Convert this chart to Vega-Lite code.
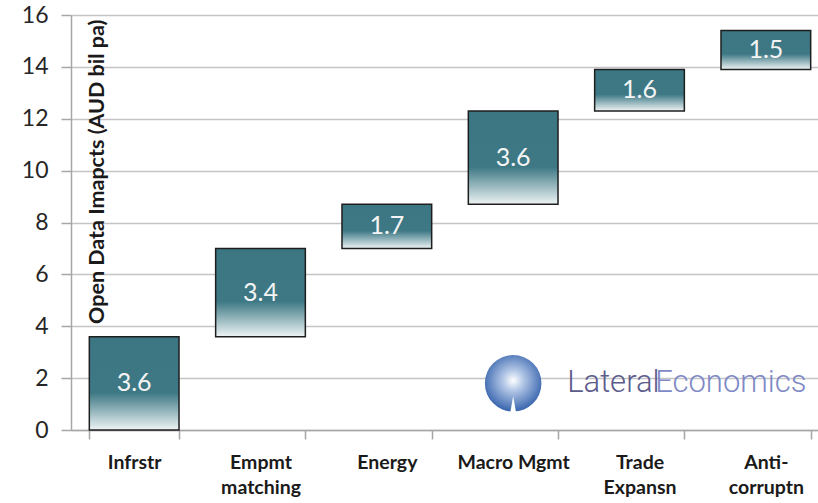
{
  "$schema": "https://vega.github.io/schema/vega-lite/v6.json",
  "autosize": "none",
  "width": 758,
  "height": 415,
  "padding": {"left": 71, "top": 15, "right": 0, "bottom": 73},
  "background": "white",
  "config": {
    "view": {"stroke": null},
    "font": "Lato"
  },
  "data": {
    "values": [
      {"cat": "Infrstr", "start": 0, "end": 3.6, "value": "3.6"},
      {"cat": "Empmt|matching", "start": 3.6, "end": 7.0, "value": "3.4"},
      {"cat": "Energy", "start": 7.0, "end": 8.7, "value": "1.7"},
      {"cat": "Macro Mgmt", "start": 8.7, "end": 12.3, "value": "3.6"},
      {"cat": "Trade|Expansn", "start": 12.3, "end": 13.9, "value": "1.6"},
      {"cat": "Anti-|corruptn", "start": 13.9, "end": 15.4, "value": "1.5"}
    ]
  },
  "encoding": {
    "x": {
      "field": "cat", "type": "nominal", "sort": null,
      "scale": {"paddingInner": 0.29, "paddingOuter": 0.145},
      "axis": {
        "title": null, "labelAngle": 0,
        "labelExpr": "split(datum.label, '|')",
        "labelFont": "Lato", "labelFontWeight": "bold", "labelFontSize": 19.5,
        "labelColor": "#1a1a1a", "labelPadding": 14, "labelLineHeight": 25,
        "tickBand": "extent", "tickSize": 9, "tickColor": "#a6a6a6", "tickWidth": 1.5,
        "domainColor": "#a6a6a6", "domainWidth": 1.5
      }
    }
  },
  "layer": [
    {
      "mark": {
        "type": "bar",
        "stroke": "#1e1e1e", "strokeWidth": 1.5,
        "color": {
          "gradient": "linear", "x1": 0, "y1": 0, "x2": 0, "y2": 1,
          "stops": [
            {"offset": 0, "color": "#3b7682"},
            {"offset": 0.6, "color": "#3d7884"},
            {"offset": 1, "color": "#eef4f5"}
          ]
        }
      },
      "encoding": {
        "y": {
          "field": "start", "type": "quantitative",
          "scale": {"domain": [0, 16], "nice": false},
          "axis": {
            "values": [0, 2, 4, 6, 8, 10, 12, 14, 16],
            "grid": true, "gridColor": "#c4c4c4", "gridWidth": 1.5,
            "domainColor": "#a6a6a6", "domainWidth": 1.5,
            "tickColor": "#a6a6a6", "tickSize": 10, "tickWidth": 1.5,
            "labelFont": "Lato", "labelFontSize": 23, "labelColor": "#262626", "labelPadding": 13,
            "title": "Open Data Imapcts (AUD bil pa)",
            "titleFont": "Lato", "titleFontWeight": "bold", "titleFontSize": 21.5, "titleColor": "#1a1a1a",
            "titleAngle": -90, "titleAlign": "right", "titleBaseline": "middle",
            "titleX": 26, "titleY": 4
          }
        },
        "y2": {"field": "end"}
      }
    },
    {
      "transform": [{"calculate": "(datum.start + datum.end) / 2", "as": "mid"}],
      "mark": {"type": "text", "color": "#f4f4f4", "fontSize": 25, "font": "Lato", "baseline": "middle"},
      "encoding": {
        "y": {"field": "mid", "type": "quantitative"},
        "text": {"field": "value"}
      }
    },
    {
      "data": {"values": [{"cat": "Macro Mgmt", "y": 1.8}]},
      "mark": {
        "type": "point", "shape": "circle", "size": 3200, "filled": true, "opacity": 1,
        "fill": {
          "gradient": "radial", "x1": 0.5, "y1": 0.45, "x2": 0.5, "y2": 0.45, "r1": 0, "r2": 0.6,
          "stops": [
            {"offset": 0, "color": "#ffffff"},
            {"offset": 0.3, "color": "#b3c7e6"},
            {"offset": 1, "color": "#2757a6"}
          ]
        }
      },
      "encoding": {"y": {"field": "y", "type": "quantitative"}}
    },
    {
      "data": {"values": [{"cat": "Macro Mgmt", "y": 0.8}]},
      "mark": {"type": "point", "shape": "M-0.35,1 L0,-1 L0.35,1 Z", "size": 700, "filled": true, "color": "white", "opacity": 1},
      "encoding": {"y": {"field": "y", "type": "quantitative"}}
    },
    {
      "data": {"values": [{"cat": "Macro Mgmt", "y": 1.8, "t": "Lateral"}]},
      "mark": {"type": "text", "align": "left", "baseline": "middle", "dx": 54, "fontSize": 31, "font": "Roboto", "fontWeight": 300, "color": "#5b5b8c"},
      "encoding": {"y": {"field": "y", "type": "quantitative"}, "text": {"field": "t"}}
    },
    {
      "data": {"values": [{"cat": "Macro Mgmt", "y": 1.8, "t": "Economics"}]},
      "mark": {"type": "text", "align": "left", "baseline": "middle", "dx": 142, "fontSize": 31, "font": "Roboto", "fontWeight": 300, "color": "#7f89c6"},
      "encoding": {"y": {"field": "y", "type": "quantitative"}, "text": {"field": "t"}}
    }
  ]
}
